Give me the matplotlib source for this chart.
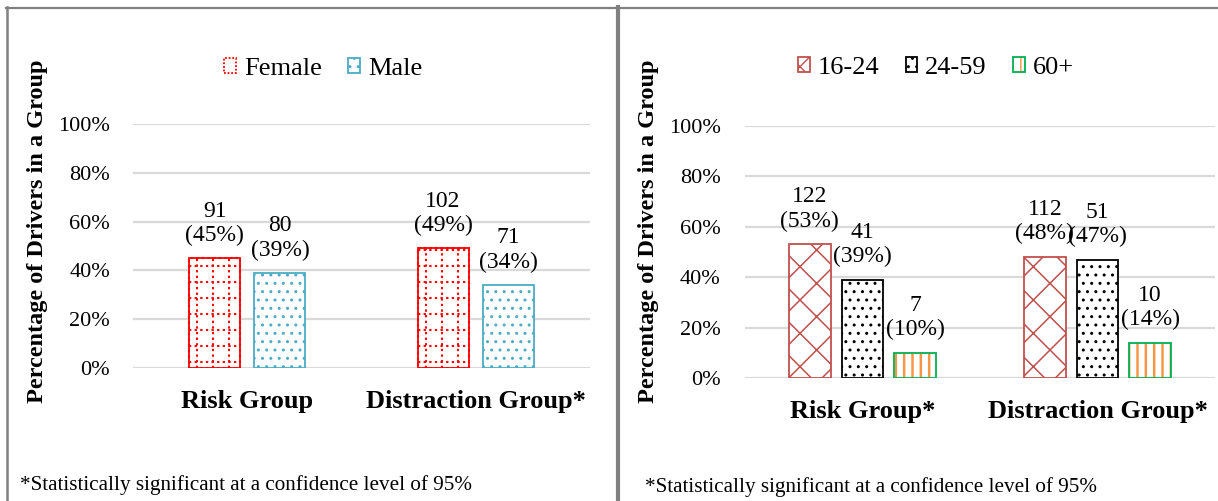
import matplotlib
matplotlib.use("Agg")
import matplotlib.pyplot as plt
from matplotlib.lines import Line2D
from matplotlib.patches import Patch
from matplotlib.legend_handler import HandlerTuple
import numpy as np

plt.rcParams['font.family'] = ['Liberation Serif', 'DejaVu Serif']

# ---- data ----
categories_left = ["Risk Group", "Distraction Group*"]
gender_series = ["Female", "Male"]
female_pct = [45, 49]
female_n = [91, 102]
male_pct = [39, 34]
male_n = [80, 71]

categories_right = ["Risk Group*", "Distraction Group*"]
age_series = ["16-24", "24-59", "60+"]
age_16_24_pct = [53, 48]
age_16_24_n = [122, 112]
age_24_59_pct = [39, 47]
age_24_59_n = [41, 51]
age_60_pct = [10, 14]
age_60_n = [7, 10]

yticks = [0, 20, 40, 60, 80, 100]
ytick_labels = ["0%", "20%", "40%", "60%", "80%", "100%"]
ylabel = "Percentage of Drivers in a Group"
footnote = "*Statistically significant at a confidence level of 95%"

W, H = 1218, 501
fig = plt.figure(figsize=(W / 100, H / 100), dpi=100)


def px_axes(x0, y0, x1, y1):
    return fig.add_axes([x0 / W, 1 - y1 / H, (x1 - x0) / W, (y1 - y0) / H])


def style_axes(ax, cats, ypad):
    ax.set_ylim(0, 100)
    ax.set_xlim(-0.5, len(cats) - 0.5)
    ax.set_yticks(yticks)
    ax.set_yticklabels(ytick_labels, fontsize=16)
    ax.set_xticks(range(len(cats)))
    ax.set_xticklabels(cats, fontsize=19, fontweight='bold')
    ax.tick_params(axis='both', length=0)
    ax.tick_params(axis='x', pad=16)
    ax.tick_params(axis='y', pad=ypad)
    for s in ax.spines.values():
        s.set_visible(False)
    ax.grid(axis='y', color='#d9d9d9', linewidth=1.6)
    ax.set_axisbelow(True)


def bar(ax, x, h, w, edge, hatch, hatchcol, hlw):
    with plt.rc_context({'hatch.linewidth': hlw}):
        b = ax.bar(x, h, w, color='white', edgecolor=hatchcol,
                   hatch=(None if hatch == 'dotgrid' else hatch), linewidth=0, zorder=2)
    rect = b[0]
    if hatch == 'dotgrid':
        # dotted grid pattern inside the bar (pattern spacing ~16 px)
        dx = 16 / ax.bbox.width * (ax.get_xlim()[1] - ax.get_xlim()[0])
        dy = 16 / ax.bbox.height * (ax.get_ylim()[1] - ax.get_ylim()[0])
        x0, x1 = x - w / 2, x + w / 2
        xs = np.arange(x0 + dx / 2, x1, dx)
        ys = np.arange(dy * 0.4, h, dy)
        ls = (0, (1.1, 1.6))
        vl = ax.vlines(xs, 0, h, colors=hatchcol, linestyles=[ls], linewidth=1.5, zorder=2.5)
        hl = ax.hlines(ys, x0, x1, colors=hatchcol, linestyles=[ls], linewidth=1.5, zorder=2.5)
        vl.set_clip_path(rect)
        hl.set_clip_path(rect)
        inner = ax.bar(x, h, w, color='none', edgecolor=hatchcol, linestyle=ls,
                       linewidth=1.5, zorder=2.5)
    ax.bar(x, h, w, color='none', edgecolor=edge, linewidth=1.3, zorder=3)


def label(ax, x, h, n, p):
    ax.text(x, h + 5, f"{n}\n({p}%)", ha='center', va='bottom', fontsize=17,
            linespacing=1.2, zorder=4)


def handle(edge, hatch, hatchcol, hlw):
    hh = '+' if hatch == 'dotgrid' else hatch
    with plt.rc_context({'hatch.linewidth': hlw}):
        p1 = Patch(facecolor='white', edgecolor=hatchcol, hatch=hh, linewidth=0)
    p2 = Patch(facecolor='none', edgecolor=edge, linewidth=1.3)
    return (p1, p2)


# ---- left panel ----
axL = px_axes(133, 124, 590, 368)
style_axes(axL, categories_left, 16.5)
xl = np.arange(len(categories_left))
wL = 0.223
offL = 0.143
left_specs = [
    (female_pct, female_n, -offL, '#FF0000', 'dotgrid', '#FF0000', 1.0),
    (male_pct, male_n, offL, '#4BACC6', '..', '#4BACC6', 1.0),
]
for pct, n, off, edge, hatch, hc, hlw in left_specs:
    for i in range(len(xl)):
        bar(axL, xl[i] + off, pct[i], wL, edge, hatch, hc, hlw)
        label(axL, xl[i] + off, pct[i], n[i], pct[i])

axL.set_ylabel(ylabel, fontsize=17.5, fontweight='bold')
axL.yaxis.set_label_coords(-0.186, 0.56)

hL = [handle(e, h, c, lw) for _, _, _, e, h, c, lw in left_specs]
hL[0] = (Patch(facecolor='white', edgecolor='#FF0000', linewidth=1.3, linestyle=(0, (1, 1))),)
fig.legend(hL, gender_series, loc='center', bbox_to_anchor=(323 / W, 1 - 69 / H),
           ncol=2, frameon=False, fontsize=19, handlelength=0.45, handleheight=0.5,
           handletextpad=0.3, columnspacing=1.0,
           handler_map={tuple: HandlerTuple(ndivide=1, pad=0)})

# ---- right panel ----
axR = px_axes(745, 126, 1215, 378)
style_axes(axR, categories_right, 17.5)
xr = np.arange(len(categories_right))
wR = 0.177
offR = 0.224
right_specs = [
    (age_16_24_pct, age_16_24_n, -offR, '#C0504D', 'x', '#C0504D', 1.1),
    (age_24_59_pct, age_24_59_n, 0.0, '#000000', '..', '#000000', 1.0),
    (age_60_pct, age_60_n, offR, '#00B050', '||', '#F79646', 1.8),
]
for pct, n, off, edge, hatch, hc, hlw in right_specs:
    for i in range(len(xr)):
        bar(axR, xr[i] + off, pct[i], wR, edge, hatch, hc, hlw)
        label(axR, xr[i] + off, pct[i], n[i], pct[i])

axR.set_ylabel(ylabel, fontsize=17.5, fontweight='bold')
axR.yaxis.set_label_coords(-0.183, 0.583)

hR = [handle(e, h, c, lw) for _, _, _, e, h, c, lw in right_specs]
fig.legend(hR, age_series, loc='center', bbox_to_anchor=(936 / W, 1 - 68 / H),
           ncol=3, frameon=False, fontsize=19, handlelength=0.45, handleheight=0.5,
           handletextpad=0.3, columnspacing=1.0,
           handler_map={tuple: HandlerTuple(ndivide=1, pad=0)})

# ---- footnotes ----
fig.text(20 / W, 1 - 485 / H, footnote, fontsize=15.2, ha='left', va='center')
fig.text(645 / W, 1 - 487 / H, footnote, fontsize=15.2, ha='left', va='center')

# ---- panel borders ----
gray = '#808080'
fig.add_artist(Line2D([6 / W, 1], [1 - 7.5 / H, 1 - 7.5 / H], color=gray, linewidth=1.6,
                      transform=fig.transFigure))
fig.add_artist(Line2D([7 / W, 7 / W], [0, 1 - 7 / H], color=gray, linewidth=1.8,
                      transform=fig.transFigure))
fig.add_artist(Line2D([618 / W, 618 / W], [0, 1 - 7 / H], color=gray, linewidth=3.0,
                      transform=fig.transFigure))

fig.savefig("out.png", dpi=100)
